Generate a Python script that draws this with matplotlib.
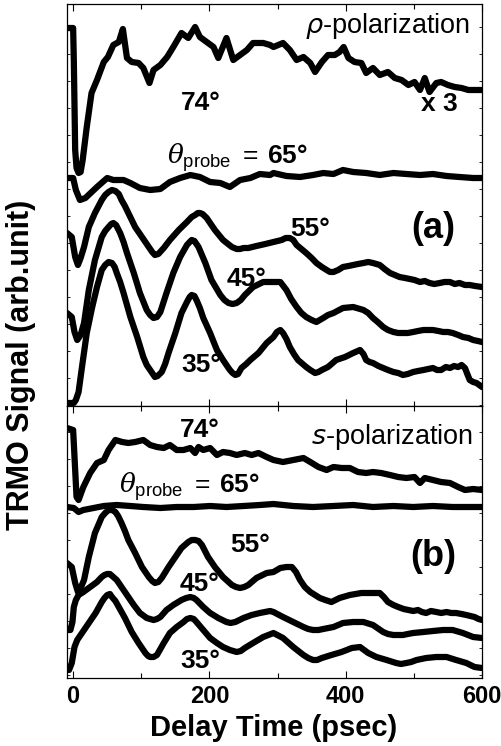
import matplotlib
matplotlib.use("Agg")
import matplotlib.pyplot as plt
from matplotlib.ticker import MultipleLocator

# === Fontes ===
plt.rcParams['font.family'] = ['Liberation Sans', 'DejaVu Sans']
plt.rcParams['mathtext.fontset'] = 'custom'
plt.rcParams['mathtext.rm'] = 'Liberation Sans'
plt.rcParams['mathtext.sf'] = 'Liberation Sans'
plt.rcParams['mathtext.it'] = 'DejaVu Serif:italic'
plt.rcParams['mathtext.bf'] = 'Liberation Sans:bold'

# === Dados (tempo em psec, sinal em unidade arbitraria,
#     medido para baixo a partir do topo de cada painel) ===
# (a) p-polarization
t_a74 = [-9, 0, 1, 3, 5, 8, 11, 14, 20, 27, 35, 45, 51, 59, 67, 73, 79, 86, 96, 103,
         112, 118, 128, 138, 147, 159, 169, 179, 186, 196, 206, 213, 225, 235, 245, 255,
         264, 279, 289, 294, 308, 318, 328, 338, 348, 355, 365, 374, 384, 391, 397, 404,
         413, 423, 430, 440, 450, 462, 472, 482, 492, 501, 509, 516, 523, 533, 540, 550,
         560, 570, 580, 589, 600]
s_a74 = [28, 28, 60, 150, 168, 173, 172, 160, 127, 93, 80, 62, 57, 45, 42, 29, 58, 62, 63, 68,
         83, 70, 65, 57, 47, 33, 38, 27, 37, 42, 47, 58, 38, 60, 55, 50,
         43, 43, 45, 47, 43, 50, 60, 57, 63, 72, 62, 55, 55, 52, 47, 58,
         62, 63, 73, 68, 75, 72, 78, 80, 85, 82, 90, 78, 92, 83, 82, 85,
         87, 88, 90, 90, 90]

t_a65 = [-9, 0, 4, 10, 18, 35, 50, 59, 74, 84, 98, 113, 128, 142, 157, 172, 186, 201, 216, 230,
         245, 260, 274, 289, 294, 313, 333, 352, 367, 382, 396, 411, 430, 450, 470, 489, 509,
         528, 548, 567, 587, 600]
s_a65 = [178, 178, 190, 200, 198, 187, 178, 180, 180, 183, 188, 190, 189, 182, 178, 175, 177, 182, 183, 187,
         180, 178, 174, 175, 173, 176, 177, 175, 173, 174, 170, 172, 173, 175, 173, 174, 175,
         174, 176, 177, 178, 178]

t_a55 = [-9, -2, 3, 7, 11, 16, 23, 32, 42, 47, 52, 57, 62, 67, 71, 76, 81, 91, 101, 111,
         116, 120, 125, 133, 142, 155, 167, 174, 179, 183, 186, 190, 196, 202, 208, 220, 233, 240,
         245, 250, 257, 269, 282, 294, 306, 312, 318, 323, 328, 335, 342, 350, 357, 365, 372, 377,
         382, 389, 396, 404, 411, 418, 426, 433, 440, 445, 450, 457, 465, 472, 479, 487, 494, 501,
         509, 516, 523, 530, 538, 545, 553, 560, 567, 575, 582, 590, 600]
s_a55 = [233, 237, 257, 265, 258, 247, 227, 213, 200, 195, 192, 190, 191, 194, 200, 206, 213, 227, 237, 247,
         252, 255, 254, 248, 240, 230, 222, 217, 215, 213, 213, 214, 218, 224, 230, 240, 247, 249,
         249, 248, 248, 246, 244, 242, 240, 238, 238, 240, 245, 249, 253, 258, 263, 267, 270, 272,
         272, 270, 267, 266, 265, 264, 263, 262, 263, 264, 265, 269, 273, 275, 277, 278, 279, 280,
         282, 281, 283, 284, 283, 282, 282, 284, 283, 285, 285, 286, 287]

t_a45 = [-9, -2, 2, 6, 11, 16, 23, 32, 42, 47, 52, 56, 59, 63, 69, 74, 79, 89, 98, 108,
         113, 118, 123, 128, 137, 147, 157, 167, 171, 174, 178, 184, 194, 203, 216, 222, 228, 234,
         240, 246, 252, 264, 279, 294, 304, 313, 320, 328, 335, 342, 350, 357, 362, 367, 374, 382,
         396, 411, 426, 433, 440, 447, 455, 462, 470, 477, 484, 491, 499, 506, 514, 521, 528, 536,
         543, 550, 557, 565, 572, 580, 587, 594, 600]
s_a45 = [313, 317, 332, 340, 335, 323, 290, 260, 237, 231, 227, 224, 223, 225, 233, 242, 253, 273, 293, 310,
         315, 318, 317, 312, 293, 273, 257, 245, 242, 240, 241, 247, 263, 280, 295, 300, 303, 304,
         303, 300, 295, 287, 282, 282, 282, 290, 299, 307, 313, 317, 320, 322, 320, 318, 315, 313,
         308, 307, 310, 313, 318, 322, 327, 330, 332, 333, 333, 333, 332, 331, 330, 330, 330, 331,
         332, 332, 333, 335, 337, 338, 340, 341, 342]

t_a35 = [-9, 1, 4, 8, 13, 20, 28, 35, 42, 47, 52, 57, 61, 64, 69, 74, 84, 94, 103, 108,
         113, 117, 120, 124, 130, 135, 140, 150, 159, 167, 171, 174, 178, 181, 186, 191, 201, 211,
         220, 230, 234, 238, 242, 247, 254, 260, 272, 284, 294, 299, 304, 308, 313, 318, 324, 330,
         342, 348, 355, 360, 365, 374, 386, 399, 411, 421, 426, 430, 435, 440, 448, 455, 462, 470,
         477, 484, 491, 499, 506, 514, 521, 528, 534, 540, 547, 553, 559, 565, 570, 575, 579, 582,
         587, 592, 596, 600]
s_a35 = [403, 403, 400, 392, 367, 333, 307, 287, 270, 265, 262, 263, 267, 273, 282, 293, 317, 337, 357, 365,
         370, 374, 377, 376, 372, 364, 353, 333, 313, 302, 297, 295, 296, 300, 308, 318, 333, 350,
         360, 370, 373, 375, 374, 368, 364, 360, 353, 343, 337, 332, 330, 333, 339, 347, 354, 360,
         367, 370, 373, 372, 370, 367, 360, 357, 353, 350, 354, 360, 362, 363, 366, 368, 370, 372,
         373, 375, 374, 372, 371, 370, 369, 368, 370, 370, 367, 368, 366, 367, 365, 368, 375, 380,
         382, 383, 385, 387]

# (b) s-polarization
t_b74 = [-9, 0, 3, 5, 8, 15, 25, 35, 45, 52, 62, 72, 81, 91, 103, 113, 123, 133, 142, 152,
         162, 172, 179, 184, 191, 201, 211, 220, 230, 240, 252, 262, 272, 284, 294, 308, 323, 338,
         348, 360, 372, 382, 394, 406, 418, 430, 440, 452, 465, 477, 489, 501, 509, 516, 528, 540,
         553, 565, 575, 587, 600]
s_b74 = [428, 430, 470, 497, 500, 487, 473, 463, 460, 450, 440, 442, 443, 442, 440, 445, 447, 448, 445, 450,
         450, 448, 453, 447, 450, 448, 455, 452, 453, 455, 453, 455, 453, 457, 460, 462, 460, 458,
         462, 467, 470, 467, 468, 468, 472, 473, 472, 473, 475, 477, 478, 477, 483, 478, 480, 482,
         483, 487, 490, 489, 490]

t_b65 = [-9, 1, 8, 15, 30, 45, 64, 84, 103, 128, 152, 177, 201, 225, 250, 274, 294, 323, 352, 382,
         411, 440, 470, 499, 528, 557, 600]
s_b65 = [507, 508, 512, 510, 508, 506, 505, 506, 507, 508, 507, 507, 506, 507, 506, 505, 504, 506, 507, 506,
         505, 507, 506, 507, 506, 507, 507]

t_b55 = [-9, -2, 3, 7, 11, 16, 23, 32, 42, 47, 52, 57, 62, 66, 71, 76, 81, 91, 101, 111,
         116, 120, 125, 130, 140, 150, 159, 169, 174, 179, 184, 189, 198, 208, 220, 233, 239, 245,
         251, 257, 269, 284, 294, 304, 313, 321, 327, 333, 340, 348, 355, 362, 370, 379, 385, 391,
         406, 423, 440, 450, 456, 462, 470, 477, 485, 492, 499, 506, 512, 518, 525, 533, 540, 548,
         555, 562, 570, 577, 583, 589, 595, 600]
s_b55 = [563, 567, 583, 592, 588, 580, 557, 533, 517, 513, 510, 510, 512, 516, 523, 531, 540, 553, 567, 577,
         581, 583, 582, 578, 567, 557, 548, 542, 540, 540, 541, 545, 557, 567, 577, 585, 587, 588,
         587, 585, 578, 573, 572, 568, 567, 567, 572, 580, 587, 592, 595, 598, 600, 602, 600, 598,
         595, 593, 593, 593, 597, 602, 605, 607, 609, 610, 611, 610, 612, 613, 611, 612, 613, 612,
         613, 613, 614, 615, 616, 617, 619, 620]

t_b45 = [-9, -4, -1, 1, 4, 8, 15, 25, 35, 42, 46, 50, 54, 59, 64, 69, 79, 89, 98, 108,
         113, 118, 123, 128, 137, 147, 159, 166, 172, 177, 181, 191, 201, 213, 225, 231, 238, 244,
         250, 262, 274, 289, 294, 308, 323, 338, 345, 352, 360, 367, 382, 396, 411, 426, 440, 455,
         462, 470, 477, 484, 491, 499, 514, 528, 543, 557, 572, 587, 600]
s_b45 = [630, 630, 622, 607, 600, 595, 592, 587, 582, 577, 575, 574, 574, 577, 580, 585, 595, 605, 613, 618,
         619, 620, 619, 617, 610, 605, 600, 598, 597, 598, 600, 607, 613, 618, 622, 623, 622, 620,
         618, 615, 613, 611, 612, 617, 622, 627, 629, 630, 630, 629, 627, 623, 622, 622, 625, 632,
         634, 635, 635, 635, 634, 633, 632, 631, 630, 630, 633, 637, 638]

t_b35 = [-6, -2, 2, 6, 13, 23, 33, 42, 46, 50, 54, 57, 62, 67, 76, 86, 96, 106, 110, 113,
         118, 123, 133, 142, 152, 162, 167, 172, 177, 181, 191, 201, 211, 220, 230, 235, 240, 246,
         252, 264, 279, 294, 308, 323, 338, 345, 352, 358, 365, 379, 394, 409, 421, 427, 433, 445,
         460, 474, 481, 489, 496, 504, 518, 533, 548, 562, 577, 589, 600]
s_b35 = [670, 663, 647, 640, 633, 623, 613, 602, 598, 595, 594, 597, 601, 607, 618, 632, 643, 653, 656, 657,
         657, 655, 643, 633, 627, 622, 619, 618, 619, 622, 630, 638, 643, 647, 650, 651, 652, 651,
         648, 643, 637, 633, 638, 647, 655, 658, 660, 660, 658, 655, 652, 648, 647, 650, 653, 657,
         660, 663, 664, 663, 662, 660, 658, 657, 657, 660, 663, 667, 668]

curvas_a = [(t_a74, s_a74), (t_a65, s_a65), (t_a55, s_a55), (t_a45, s_a45), (t_a35, s_a35)]
curvas_b = [(t_b74, s_b74), (t_b65, s_b65), (t_b55, s_b55), (t_b45, s_b45), (t_b35, s_b35)]

# === Figura ===
W, H = 502, 746
fig = plt.figure(figsize=(W / 100, H / 100), dpi=100)
esq, larg = 67 / W, 415 / W
ax_a = fig.add_axes([esq, (H - 406) / H, larg, 402 / H])
ax_b = fig.add_axes([esq, (H - 678) / H, larg, 272 / H])

for ax, curvas, ylim in [(ax_a, curvas_a, (406, 4)), (ax_b, curvas_b, (678, 406))]:
    for t, s in curvas:
        ax.plot(t, s, color='black', lw=4.5, solid_joinstyle='round', solid_capstyle='round')
    ax.set_xlim(-9, 600)
    ax.set_ylim(*ylim)
    ax.xaxis.set_major_locator(MultipleLocator(200))
    ax.xaxis.set_minor_locator(MultipleLocator(100))
    ax.yaxis.set_major_locator(MultipleLocator(27))
    ax.tick_params(axis='x', which='both', direction='in', top=True, bottom=True, width=0.8)
    ax.tick_params(axis='x', which='major', length=5)
    ax.tick_params(axis='x', which='minor', length=3.5)
    ax.tick_params(axis='y', which='both', direction='in', left=True, right=True,
                   length=2, width=0.6, labelleft=False)
    for sp in ax.spines.values():
        sp.set_linewidth(0.9)

ax_a.tick_params(axis='x', labelbottom=False)
ax_b.tick_params(axis='x', labelsize=17, pad=5)
for lab in ax_b.get_xticklabels():
    lab.set_fontweight('bold')

# === Textos ===
fs_ang = 19
rotulo_theta = r'$\theta_{\mathsf{probe}}\;=\,\mathbf{65°}$'
ax_a.text(583, 33, r'$\rho$-polarization', fontsize=19.5, ha='right', va='baseline',
          math_fontfamily='dejavusans')
ax_a.text(187, 103, '74°', fontsize=fs_ang, fontweight='bold', ha='center', va='center')
ax_a.text(538, 104, 'x 3', fontsize=fs_ang, fontweight='bold', ha='center', va='center')
ax_a.text(138, 164, rotulo_theta, fontsize=fs_ang, ha='left', va='baseline')
ax_a.text(348, 229, '55°', fontsize=fs_ang, fontweight='bold', ha='center', va='center')
ax_a.text(528, 229, '(a)', fontsize=26, fontweight='bold', ha='center', va='center')
ax_a.text(254, 279, '45°', fontsize=fs_ang, fontweight='bold', ha='center', va='center')
ax_a.text(188, 365, '35°', fontsize=fs_ang, fontweight='bold', ha='center', va='center')

ax_b.text(587, 444, r'$\mathit{s}$-polarization', fontsize=19.5, ha='right', va='baseline',
          math_fontfamily='dejavusans')
ax_b.text(186, 430, '74°', fontsize=fs_ang, fontweight='bold', ha='center', va='center')
ax_b.text(68, 493, rotulo_theta, fontsize=fs_ang, ha='left', va='baseline')
ax_b.text(259, 545, '55°', fontsize=fs_ang, fontweight='bold', ha='center', va='center')
ax_b.text(529, 556, '(b)', fontsize=26, fontweight='bold', ha='center', va='center')
ax_b.text(186, 584, '45°', fontsize=fs_ang, fontweight='bold', ha='center', va='center')
ax_b.text(186, 661, '35°', fontsize=fs_ang, fontweight='bold', ha='center', va='center')

fig.text(274 / W, 1 - 728 / H, 'Delay Time (psec)', fontsize=21, fontweight='bold',
         ha='center', va='center')
fig.text(21 / W, 1 - 365 / H, 'TRMO Signal (arb.unit)', fontsize=22, fontweight='bold',
         ha='center', va='center', rotation=90)

fig.savefig('out.png', dpi=100)
